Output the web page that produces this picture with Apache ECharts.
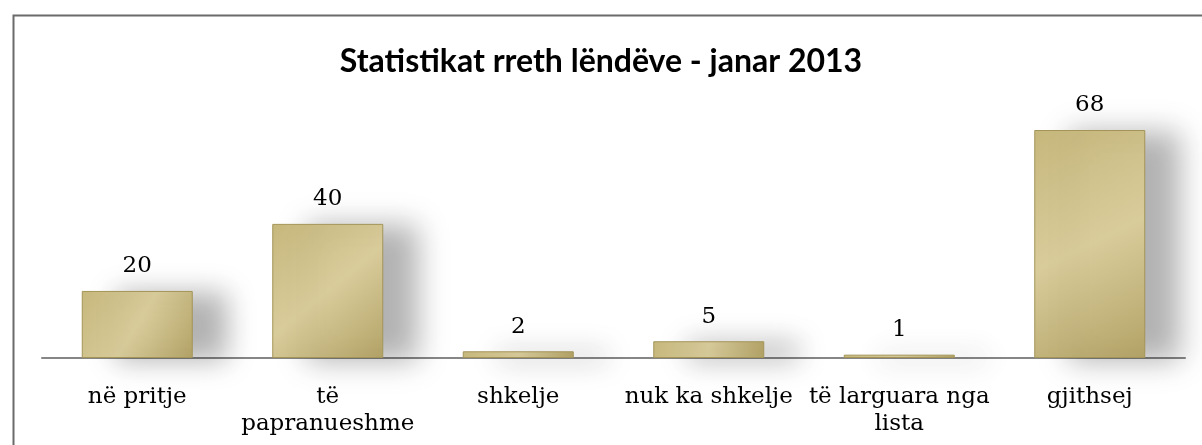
<!DOCTYPE html>
<html><head><meta charset="utf-8">
<script src="https://cdn.jsdelivr.net/npm/echarts@6/dist/echarts.min.js"></script>
<style>html,body{margin:0;padding:0;background:#fff}#c{width:1202px;height:445px}</style>
</head><body><div id="c"></div>
<script>
const titleText = 'Statistikat rreth lëndëve - janar 2013';
const categories = ['në pritje', 'të papranueshme', 'shkelje', 'nuk ka shkelje', 'të larguara nga lista', 'gjithsej'];
const tickLabels = ['në pritje', 'të\npapranueshme', 'shkelje', 'nuk ka shkelje', 'të larguara nga\nlista', 'gjithsej'];
const values = [20, 40, 2, 5, 1, 68];

const chart = echarts.init(document.getElementById('c'), null, {renderer: 'canvas'});
const serif = '"DejaVu Serif", "Liberation Serif", serif';
chart.setOption({
  animation: false,
  backgroundColor: '#fff',
  graphic: [{
    type: 'rect', left: 11, top: 13, silent: true, z: 100,
    shape: {width: 1300, height: 600},
    style: {fill: 'none', stroke: '#6b6b6b', lineWidth: 2}
  }],
  title: {
    text: titleText, left: 'center', top: 41,
    textStyle: {fontFamily: 'Lato, "Open Sans", sans-serif', fontWeight: 'bold', fontSize: 32, color: '#000'}
  },
  grid: {left: 42, right: 17, top: 123.3, bottom: 87},
  xAxis: {
    type: 'category', data: categories,
    axisLine: {lineStyle: {color: '#868686', width: 2}},
    axisTick: {show: false},
    axisLabel: {
      interval: 0, hideOverlap: false,
      fontFamily: serif, fontSize: 23, color: '#000', margin: 26, lineHeight: 27,
      formatter: (v, i) => tickLabels[i]
    }
  },
  yAxis: {type: 'value', min: 0, max: 70, show: false, splitLine: {show: false}},
  series: [{
    type: 'bar', data: values, barWidth: 111,
    itemStyle: {
      color: new echarts.graphic.LinearGradient(0, 0, 1, 1, [
        {offset: 0, color: '#c6b77c'},
        {offset: 0.5, color: '#d9cc9b'},
        {offset: 1, color: '#b3a367'}
      ]),
      borderColor: '#a39457', borderWidth: 1,
      shadowColor: 'rgba(0,0,0,0.3)', shadowBlur: 28, shadowOffsetX: 34, shadowOffsetY: 2
    },
    label: {
      show: true, position: 'top', distance: 13,
      fontFamily: serif, fontSize: 23, color: '#000'
    }
  }]
});
</script></body></html>
